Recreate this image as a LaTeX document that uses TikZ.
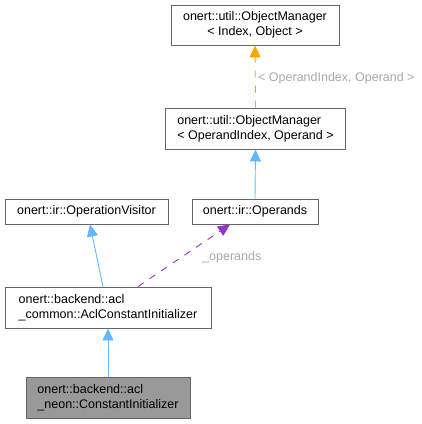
\documentclass[tikz,border=0pt]{standalone}
\usepackage{fontspec}
\setmainfont{Liberation Sans}
\usetikzlibrary{arrows.meta}
\definecolor{boxline}{HTML}{666666}
\definecolor{boxfill}{HTML}{999999}
\definecolor{inhblue}{HTML}{63B8FF}
\definecolor{tmplorange}{HTML}{FFA500}
\definecolor{usepurple}{HTML}{9A32CD}
\definecolor{labelgrey}{HTML}{A8A8A8}
\begin{document}
\begin{tikzpicture}[x=1pt,y=-1pt,
  every node/.style={font=\fontsize{12.5}{15}\selectfont},
  cls/.style={draw=boxline, line width=0.9pt, fill=white, inner xsep=0pt, inner ysep=0pt},
  inh/.style={draw=inhblue, line width=0.9pt, -{Triangle[length=12pt,width=11pt]}},
  tmpl/.style={draw=tmplorange, line width=0.9pt, dash pattern=on 7pt off 8pt, -{Triangle[length=12pt,width=11pt]}},
  usage/.style={draw=usepurple, line width=0.9pt, dash pattern=on 7pt off 7pt, -{Triangle[length=12pt,width=11pt]}},
  elabel/.style={text=labelgrey, inner sep=0pt}
]
\useasboundingbox (0,0) rectangle (422,424);
\node[cls, minimum width=168pt, minimum height=40pt, align=center] (om) at (255,25)
  {onert::util::ObjectManager\\< Index, Object >};
\node[cls, minimum width=180pt, minimum height=41pt, align=left] (omop) at (255.5,128.5)
  {onert::util::ObjectManager\\< OperandIndex, Operand >};
\node[cls, minimum width=163pt, minimum height=25pt] (vis) at (86.5,211.5) {onert::ir::OperationVisitor};
\node[cls, minimum width=126pt, minimum height=25pt] (ops) at (255,211.5) {onert::ir::Operands};
\node[cls, minimum width=206pt, minimum height=41pt, align=left] (acl) at (108,307.5)
  {onert::backend::acl\\\_common::AclConstantInitializer};
\node[cls, fill=boxfill, minimum width=164pt, minimum height=41pt, align=left] (neon) at (108,397.5)
  {onert::backend::acl\\\_neon::ConstantInitializer};

\draw[tmpl] (omop.north) -- (om.south);
\node[elabel, anchor=west] (tl) at (258,78) {< OperandIndex, Operand >};
\draw[inh] (ops.north) -- (omop.south);
\draw[inh] ([xshift=-5pt]acl.north) -- ([xshift=3.5pt]vis.south);
\draw[usage] ([xshift=30pt]acl.north) -- ([xshift=-25pt]ops.south);
\node[elabel, anchor=west] (ul) at (202,257) {\_operands};
\draw[inh] (neon.north) -- (acl.south);
\end{tikzpicture}
\end{document}
